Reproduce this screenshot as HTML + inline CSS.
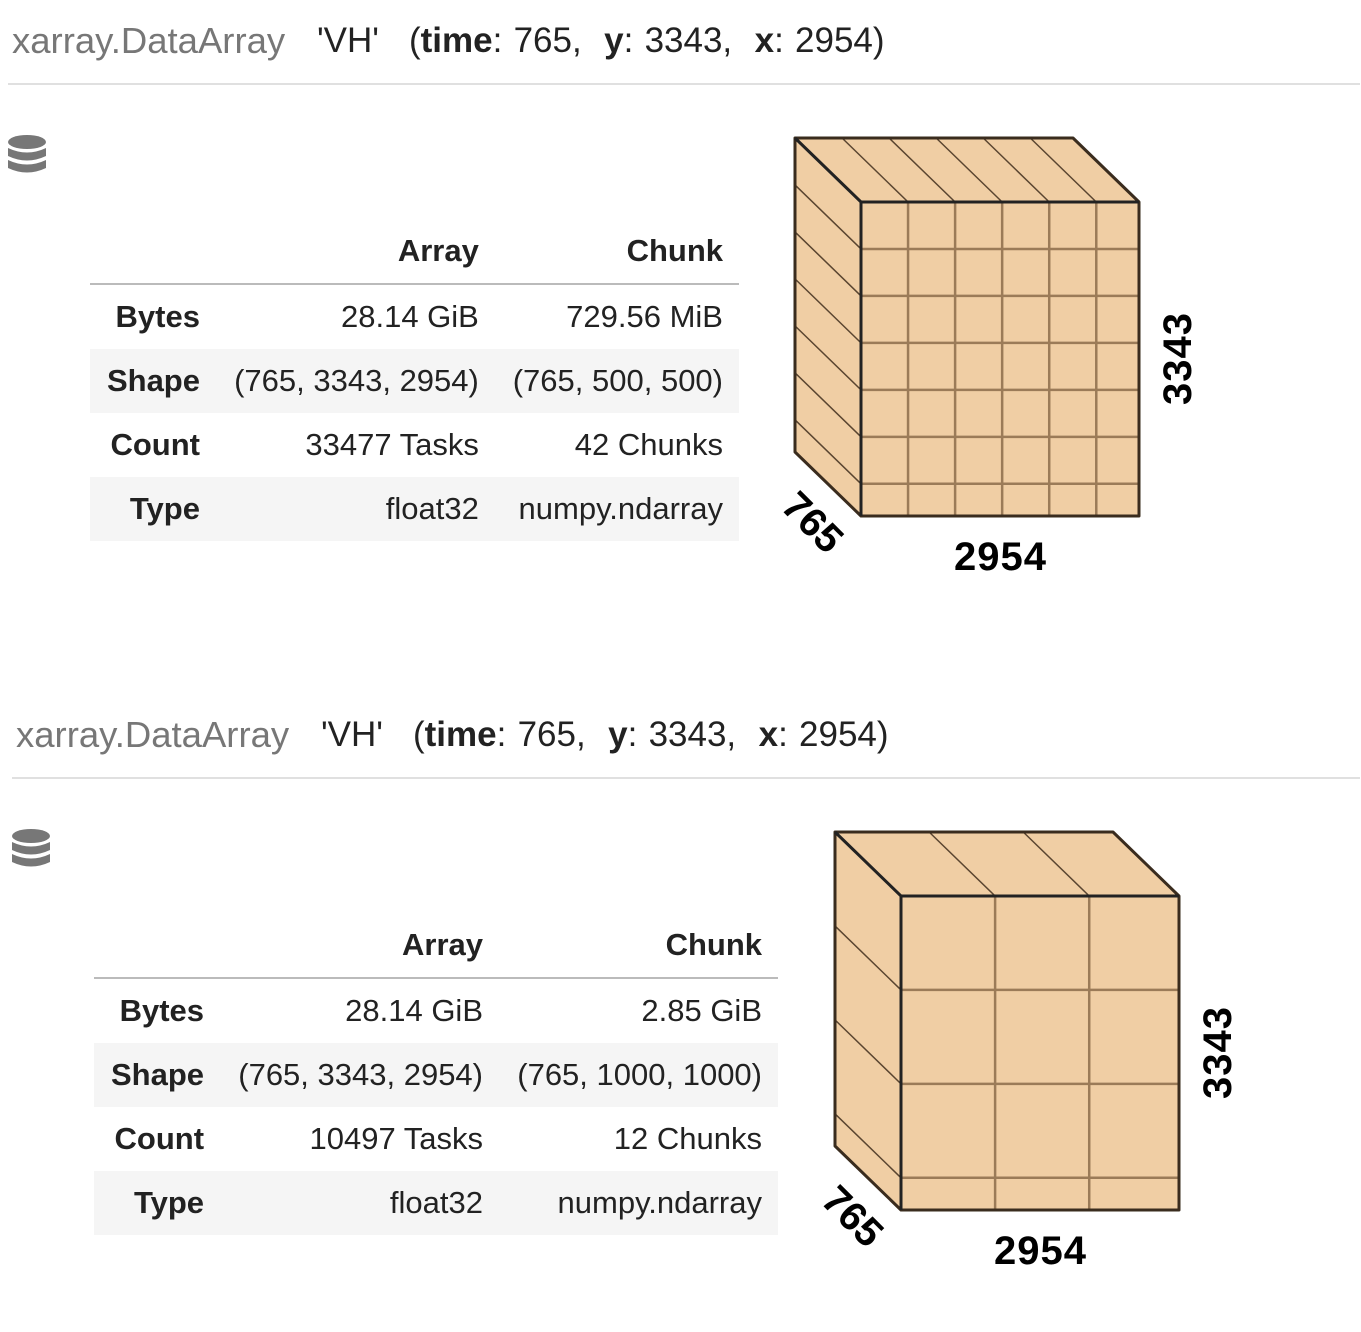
<!DOCTYPE html>
<html><head><meta charset="utf-8"><style>
html,body{margin:0;padding:0;background:#fff;width:1361px;height:1332px;overflow:hidden;font-family:"Liberation Sans",Arial,sans-serif;}
.abs{position:absolute;}
.hdr{font-size:35px;color:#222;white-space:nowrap;position:absolute;}
.cls{color:#777;font-size:36.5px;}
.hr{height:2px;background:#e0e0e0;}
table{border-collapse:collapse;font-size:31px;color:#222;}
td,th{text-align:right;padding:0 16px;height:64px;white-space:nowrap;}
th{font-weight:bold;}
tr.g{background:#f5f5f5;}
thead tr{border-bottom:2px solid #bbb;}
</style></head><body>
<div class="hdr cls" style="left:12px;top:20px">xarray.DataArray</div>
<div class="hdr" style="left:317px;top:21px">'VH'</div>
<div class="hdr" style="left:409px;top:21px;word-spacing:1.5px">(<b>time</b>: 765, &nbsp;<b>y</b>: 3343, &nbsp;<b>x</b>: 2954)</div>
<div class="abs hr" style="left:8px;top:83px;width:1352px"></div>
<div class="hdr cls" style="left:16px;top:714px">xarray.DataArray</div>
<div class="hdr" style="left:321px;top:715px">'VH'</div>
<div class="hdr" style="left:413px;top:715px;word-spacing:1.5px">(<b>time</b>: 765, &nbsp;<b>y</b>: 3343, &nbsp;<b>x</b>: 2954)</div>
<div class="abs hr" style="left:12px;top:777px;width:1348px"></div>

<svg class="abs" style="left:8px;top:134px" width="40" height="42"><g fill="#777"><ellipse cx="19" cy="8" rx="19" ry="7"/><path d="M0 14 q19 9 38 0 v8 q-19 9 -38 0z"/><path d="M0 26 q19 9 38 0 v8 q-19 9 -38 0z"/></g></svg>
<svg class="abs" style="left:12px;top:828px" width="40" height="42"><g fill="#777"><ellipse cx="19" cy="8" rx="19" ry="7"/><path d="M0 14 q19 9 38 0 v8 q-19 9 -38 0z"/><path d="M0 26 q19 9 38 0 v8 q-19 9 -38 0z"/></g></svg>

<table class="abs" style="left:90px;top:219px;width:649px">
<thead><tr style="height:64px"><th></th><th>Array</th><th>Chunk</th></tr></thead>
<tbody>
<tr><th>Bytes</th><td>28.14 GiB</td><td>729.56 MiB</td></tr>
<tr class="g"><th>Shape</th><td>(765, 3343, 2954)</td><td>(765, 500, 500)</td></tr>
<tr><th>Count</th><td>33477 Tasks</td><td>42 Chunks</td></tr>
<tr class="g"><th>Type</th><td>float32</td><td>numpy.ndarray</td></tr>
</tbody></table>

<table class="abs" style="left:94px;top:913px;width:684px">
<thead><tr style="height:64px"><th></th><th>Array</th><th>Chunk</th></tr></thead>
<tbody>
<tr><th>Bytes</th><td>28.14 GiB</td><td>2.85 GiB</td></tr>
<tr class="g"><th>Shape</th><td>(765, 3343, 2954)</td><td>(765, 1000, 1000)</td></tr>
<tr><th>Count</th><td>10497 Tasks</td><td>12 Chunks</td></tr>
<tr class="g"><th>Type</th><td>float32</td><td>numpy.ndarray</td></tr>
</tbody></table>

<svg id="cubes" class="abs" style="left:0;top:0" width="1361" height="1332"></svg>
<script>
const dims = [765, 3343, 2954];
const chunks = [500, 1000];
const origins = [[795,138],[835,832]];
const NS='http://www.w3.org/2000/svg';
const svg=document.getElementById('cubes');
const W=278,H=314,DX=66,DY=64;
function el(t,a,p){const e=document.createElementNS(NS,t);for(const k in a)e.setAttribute(k,a[k]);(p||svg).appendChild(e);return e;}
chunks.forEach((c,i)=>{
  const [bx,by]=origins[i];
  const g=el('g',{});
  
  
  const fx=bx+DX,fy=by+DY;
  const fill='#f0cea4',thin='#9b7b58';
  el('polygon',{points:`${bx},${by} ${bx+W},${by} ${fx+W},${fy} ${fx},${fy}`,fill},g);
  el('polygon',{points:`${bx},${by} ${fx},${fy} ${fx},${fy+H} ${bx},${by+H}`,fill},g);
  el('rect',{x:fx,y:fy,width:W,height:H,fill},g);
  for(let v=c; v<dims[2]; v+=c){const x=W*v/dims[2];
    el('line',{x1:fx+x,y1:fy,x2:fx+x,y2:fy+H,stroke:thin,'stroke-width':2.5},g);
    el('line',{x1:bx+x,y1:by,x2:fx+x,y2:fy,stroke:'#5a4530','stroke-width':1.5},g);}
  for(let v=c; v<dims[1]; v+=c){const y=H*v/dims[1];
    el('line',{x1:fx,y1:fy+y,x2:fx+W,y2:fy+y,stroke:thin,'stroke-width':2.5},g);
    el('line',{x1:bx,y1:by+y,x2:fx,y2:fy+y,stroke:'#5a4530','stroke-width':1.5},g);}
  el('polygon',{points:`${bx},${by} ${bx+W},${by} ${fx+W},${fy} ${fx+W},${fy+H} ${fx},${fy+H} ${bx},${by+H}`,fill:'none',stroke:'#3a2c1e','stroke-width':3,'stroke-linejoin':'round'},g);
  el('polyline',{points:`${bx},${by} ${fx},${fy} ${fx+W},${fy}`,fill:'none',stroke:'#222','stroke-width':3},g);
  el('line',{x1:fx,y1:fy,x2:fx,y2:fy+H,stroke:'#222','stroke-width':3},g);
  const t1=el('text',{x:fx+W/2,y:fy+H+54,'text-anchor':'middle','font-size':40,'font-weight':'bold','font-family':'Liberation Sans, sans-serif',textLength:92},g);
  t1.textContent=dims[2];
  
  
  const cx=fx+W+38,cy=fy+H/2;
  const t2=el('text',{x:cx,y:cy+14,'text-anchor':'middle','font-size':40,'font-weight':'bold','font-family':'Liberation Sans, sans-serif',transform:`rotate(-90 ${cx} ${cy})`,textLength:92},g);
  t2.textContent=dims[1];
  
  
  const lx=bx+18,ly=by+H+70;
  const t3=el('text',{x:lx,y:ly+14,'text-anchor':'middle','font-size':40,'font-weight':'bold','font-family':'Liberation Sans, sans-serif',transform:`rotate(45 ${lx} ${ly})`},g);
  t3.textContent=dims[0];
  
  
});
</script>
</body></html>
